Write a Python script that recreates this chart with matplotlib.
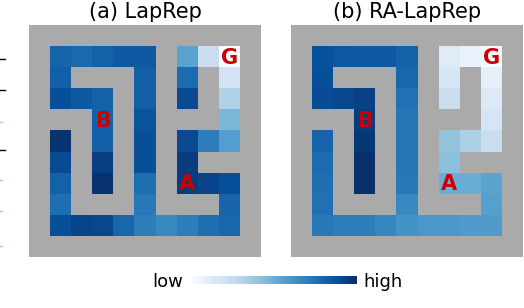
import numpy as np
import matplotlib
matplotlib.use("Agg")
import matplotlib.pyplot as plt
from matplotlib.lines import Line2D

# maze layout: '#' wall, '.' open cell (inner 9x9, outer wall added later)
maze = [
    ".....#...",
    ".###.#.#.",
    "...#.#.#.",
    "##.#.###.",
    ".#.#.#...",
    ".#.#.#.##",
    ".#.#.#...",
    ".###.###.",
    ".........",
]

# value per open cell (Blues scale 0..1), row by row, walls skipped
laprep = [
    [0.80, 0.78, 0.81, 0.84, 0.84, 0.55, 0.22, 0.0],
    [0.82, 0.82, 0.77, 0.18],
    [0.88, 0.84, 0.81, 0.82, 0.90, 0.32],
    [0.81, 0.86, 0.46],
    [0.98, 0.82, 0.88, 0.90, 0.70, 0.57],
    [0.90, 0.94, 0.88, 0.95],
    [0.81, 0.99, 0.76, 0.95, 0.92, 0.88],
    [0.76, 0.72, 0.80],
    [0.88, 0.92, 0.91, 0.79, 0.70, 0.66, 0.70, 0.76, 0.79],
]
ra_laprep = [
    [0.87, 0.85, 0.84, 0.84, 0.81, 0.12, 0.07, 0.0],
    [0.88, 0.79, 0.16, 0.08],
    [0.89, 0.91, 0.93, 0.75, 0.22, 0.13],
    [0.95, 0.73, 0.17],
    [0.80, 0.97, 0.73, 0.40, 0.33, 0.23],
    [0.77, 1.00, 0.73, 0.42],
    [0.76, 1.00, 0.72, 0.50, 0.50, 0.55],
    [0.75, 0.66, 0.56],
    [0.72, 0.70, 0.70, 0.67, 0.62, 0.60, 0.60, 0.58, 0.58],
]
titles = ["(a) LapRep", "(b) RA-LapRep"]
markers = {"G": (0, 8), "B": (3, 2), "A": (6, 6)}


def to_grid(vals):
    grid = np.full((11, 11), np.nan)
    for r, row in enumerate(maze):
        it = iter(vals[r])
        for c, ch in enumerate(row):
            if ch == ".":
                grid[r + 1, c + 1] = next(it)
    return np.ma.masked_invalid(grid)


cmap = plt.get_cmap("Blues").copy()
cmap.set_bad("#aaaaaa")

fig = plt.figure(figsize=(5.24, 3.08), dpi=100)
W, H = 524, 308

for i, vals in enumerate([laprep, ra_laprep]):
    x0 = 29 + i * 262
    ax = fig.add_axes([x0 / W, 1 - 257 / H, 232 / W, 232 / H])
    ax.imshow(to_grid(vals), cmap=cmap, vmin=0, vmax=1, interpolation="nearest")
    ax.set_axis_off()
    for name, (r, c) in markers.items():
        ax.text(c + 1, r + 1.05, name, color="#cc0000", fontsize=15,
                fontweight="bold", ha="center", va="center",
                family=["Liberation Sans Narrow", "DejaVu Sans"])
    fig.text((x0 + 116) / W, 1 - 12 / H, titles[i], fontsize=15,
             ha="center", va="center")

# colour bar
cax = fig.add_axes([192 / W, 1 - 284 / H, 165 / W, 8 / H])
cax.imshow(np.linspace(0, 1, 256)[None, :], cmap="Blues", aspect="auto")
cax.set_axis_off()
fig.text(183 / W, 1 - 282 / H, "low", fontsize=13, ha="right", va="center")
fig.text(363 / W, 1 - 282 / H, "high", fontsize=13, ha="left", va="center")

# leftover tick marks at the left edge
for y in [59, 90, 150]:
    fig.add_artist(Line2D([0, 5 / W], [1 - y / H] * 2, color="black", lw=1))
for y in [122, 180, 211, 246]:
    fig.add_artist(Line2D([0, 2 / W], [1 - y / H] * 2, color="#b0c4de", lw=1))

fig.savefig("out.png", dpi=100)
